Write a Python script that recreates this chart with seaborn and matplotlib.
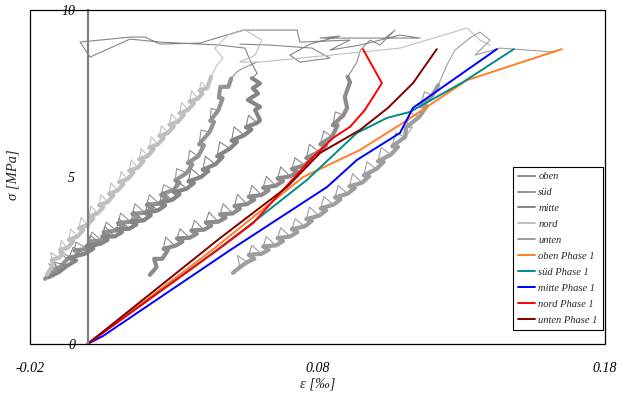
import matplotlib
matplotlib.use("Agg")
import matplotlib.pyplot as plt
from matplotlib.patches import Rectangle
import seaborn as sns
import pandas as pd

# ---------------- data (strain eps [per mille], stress sigma [MPa]) ----------------
oben_eps = [0.0217, 0.0240, 0.0232,
            0.0260, 0.0280, 0.0264, 0.0272,
            0.0305, 0.0330, 0.0311, 0.0322,
            0.0355, 0.0380, 0.0361, 0.0372,
            0.0405, 0.0430, 0.0411, 0.0422,
            0.0455, 0.0480, 0.0461, 0.0472,
            0.0505, 0.0530, 0.0511, 0.0522,
            0.0555, 0.0580, 0.0561, 0.0572,
            0.0605, 0.0630, 0.0611, 0.0622,
            0.0655, 0.0680, 0.0661, 0.0672,
            0.0705, 0.0730, 0.0711, 0.0722,
            0.0755, 0.0780, 0.0761, 0.0772,
            0.0805, 0.0830, 0.0810, 0.0822,
            0.0850, 0.0870, 0.0853, 0.0862,
            0.0890, 0.0903, 0.0895, 0.0913, 0.0905, 0.0937, 0.0949, 0.0983,
            0.1017, 0.1070, 0.1035]
oben_sig = [2.07, 2.30, 2.55,
            2.55, 2.82, 2.85, 3.20,
            2.94, 3.06, 3.16, 3.45,
            3.18, 3.30, 3.40, 3.70,
            3.42, 3.54, 3.64, 3.95,
            3.66, 3.78, 3.88, 4.20,
            3.91, 4.05, 4.13, 4.48,
            4.19, 4.32, 4.41, 4.75,
            4.46, 4.60, 4.68, 5.02,
            4.74, 4.88, 4.96, 5.30,
            5.02, 5.15, 5.24, 5.58,
            5.35, 5.55, 5.57, 5.98,
            5.75, 5.95, 5.98, 6.38,
            6.20, 6.55, 6.55, 6.95,
            6.85, 7.07, 7.40, 7.84, 8.00, 8.44, 8.80, 9.10,
            8.95, 9.40, 9.16]

sued_eps = [-0.0148, -0.0110, -0.0135, -0.0095, -0.0070, -0.0100,
            -0.0050, -0.0030, -0.0045, -0.0040,
            0.0000, 0.0025, 0.0006, 0.0015,
            0.0050, 0.0075, 0.0056, 0.0065,
            0.0100, 0.0125, 0.0106, 0.0115,
            0.0150, 0.0175, 0.0156, 0.0165,
            0.0200, 0.0225, 0.0206, 0.0215,
            0.0250, 0.0275, 0.0256, 0.0265,
            0.0300, 0.0320, 0.0305, 0.0310,
            0.0345, 0.0365, 0.0349, 0.0355,
            0.0385, 0.0405, 0.0388, 0.0395,
            0.0425, 0.0440, 0.0427, 0.0430,
            0.0455, 0.0470, 0.0457, 0.0462,
            0.0490, 0.0500, 0.0520, 0.0541, 0.0590]
sued_sig = [1.95, 2.25, 2.40, 2.30, 2.55, 2.75,
            2.58, 2.70, 2.80, 3.05,
            2.85, 2.95, 3.07, 3.35,
            3.10, 3.25, 3.35, 3.65,
            3.40, 3.52, 3.62, 3.92,
            3.66, 3.80, 3.90, 4.20,
            3.93, 4.07, 4.17, 4.47,
            4.20, 4.37, 4.47, 4.77,
            4.62, 4.83, 4.90, 5.25,
            5.12, 5.38, 5.42, 5.80,
            5.62, 5.95, 5.98, 6.40,
            6.35, 6.65, 6.68, 7.05,
            7.00, 7.35, 7.38, 7.70,
            7.70, 7.95, 8.15, 8.26, 8.44]

mitte_eps = [-0.0135, -0.0100, -0.0115,
             -0.0070, -0.0040, -0.0064, -0.0050,
             -0.0010, 0.0020, -0.0004, 0.0010,
             0.0045, 0.0070, 0.0051, 0.0060,
             0.0095, 0.0120, 0.0101, 0.0110,
             0.0145, 0.0170, 0.0151, 0.0160,
             0.0195, 0.0220, 0.0201, 0.0210,
             0.0245, 0.0270, 0.0251, 0.0260,
             0.0295, 0.0320, 0.0301, 0.0310,
             0.0345, 0.0370, 0.0351, 0.0360,
             0.0395, 0.0420, 0.0401, 0.0410,
             0.0445, 0.0470, 0.0451, 0.0460,
             0.0495, 0.0520, 0.0501, 0.0510,
             0.0545, 0.0570, 0.0551, 0.0560,
             0.0590, 0.0600, 0.0583, 0.0600, 0.0558, 0.0593, 0.0575, 0.0600,
             0.0572, 0.0590,
             0.0565, 0.0548, 0.0460, 0.0391, 0.0252, 0.0148, 0.0009, -0.0026, 0.0148, 0.0200,
             0.0252, 0.0391, 0.0541, 0.0729, 0.0739, 0.0913, 0.0843, 0.0948, 0.1087, 0.1157,
             0.0809, 0.0878, 0.0774, 0.0704, 0.0739, 0.0843, 0.0781, 0.0635, 0.0530]
mitte_sig = [2.00, 2.15, 2.45,
             2.35, 2.50, 2.58, 2.90,
             2.70, 2.85, 2.93, 3.25,
             3.00, 3.12, 3.22, 3.52,
             3.22, 3.35, 3.44, 3.75,
             3.45, 3.58, 3.67, 3.98,
             3.70, 3.85, 3.92, 4.25,
             4.00, 4.15, 4.22, 4.55,
             4.32, 4.48, 4.54, 4.90,
             4.65, 4.82, 4.87, 5.25,
             5.00, 5.18, 5.22, 5.62,
             5.38, 5.60, 5.62, 6.05,
             5.85, 6.05, 6.09, 6.50,
             6.25, 6.42, 6.49, 6.85,
             6.62, 6.70, 7.01, 7.10, 7.31, 7.50, 7.66, 7.80,
             7.96, 8.10,
             8.50, 8.86, 8.95, 8.98, 9.04, 9.13, 8.59, 9.04, 9.19, 9.19,
             8.98, 9.01, 9.40, 9.40, 9.04, 9.10, 8.80, 8.95, 9.25, 9.16,
             9.16, 9.22, 8.98, 8.65, 8.44, 8.56, 8.86, 8.95, 8.98]

nord_eps = [-0.0141, -0.0120, -0.0124, -0.0128,
            -0.0100, -0.0085, -0.0095, -0.0092,
            -0.0070, -0.0050, -0.0065, -0.0058,
            -0.0035, -0.0015, -0.0030, -0.0022,
            0.0000, 0.0020, 0.0005, 0.0012,
            0.0035, 0.0055, 0.0040, 0.0047,
            0.0070, 0.0090, 0.0075, 0.0082,
            0.0105, 0.0125, 0.0110, 0.0117,
            0.0140, 0.0160, 0.0145, 0.0152,
            0.0175, 0.0195, 0.0180, 0.0187,
            0.0210, 0.0230, 0.0215, 0.0222,
            0.0245, 0.0265, 0.0250, 0.0257,
            0.0280, 0.0300, 0.0285, 0.0292,
            0.0315, 0.0335, 0.0320, 0.0327,
            0.0350, 0.0370, 0.0355, 0.0362,
            0.0385, 0.0400, 0.0390, 0.0395,
            0.0416, 0.0430, 0.0450, 0.0471,
            0.0443, 0.0489, 0.0548, 0.0607, 0.0583, 0.0530, 0.0600, 0.0843,
            0.1087, 0.1320, 0.1365, 0.1400]
nord_sig = [2.07, 2.38, 2.52, 2.75,
            2.58, 2.70, 2.83, 3.10,
            2.87, 3.07, 3.12, 3.44,
            3.22, 3.41, 3.47, 3.79,
            3.56, 3.76, 3.81, 4.13,
            3.91, 4.10, 4.16, 4.47,
            4.25, 4.45, 4.50, 4.82,
            4.60, 4.79, 4.85, 5.16,
            4.94, 5.14, 5.19, 5.51,
            5.28, 5.48, 5.53, 5.85,
            5.63, 5.83, 5.88, 6.20,
            5.98, 6.17, 6.23, 6.54,
            6.32, 6.52, 6.57, 6.89,
            6.66, 6.86, 6.91, 7.23,
            7.01, 7.21, 7.26, 7.58,
            7.35, 7.50, 7.60, 7.85,
            7.66, 8.00, 8.35, 8.56,
            8.86, 9.25, 9.40, 9.10, 8.65, 8.44, 8.44, 8.65,
            8.86, 9.46, 9.10, 8.95]

unten_eps = [0.0506, 0.0530, 0.0522,
             0.0555, 0.0580, 0.0561, 0.0572,
             0.0605, 0.0630, 0.0611, 0.0622,
             0.0655, 0.0680, 0.0661, 0.0672,
             0.0705, 0.0730, 0.0711, 0.0722,
             0.0755, 0.0780, 0.0761, 0.0772,
             0.0805, 0.0830, 0.0811, 0.0822,
             0.0855, 0.0880, 0.0861, 0.0872,
             0.0905, 0.0930, 0.0911, 0.0922,
             0.0955, 0.0980, 0.0961, 0.0972,
             0.1005, 0.1030, 0.1010, 0.1022,
             0.1055, 0.1080, 0.1060, 0.1072,
             0.1105, 0.1130, 0.1108, 0.1122,
             0.1155, 0.1180, 0.1158, 0.1172,
             0.1200, 0.1220, 0.1235, 0.1250, 0.1278, 0.1330, 0.1365, 0.1400,
             0.1348, 0.1435, 0.1626]
unten_sig = [2.13, 2.30, 2.65,
             2.45, 2.55, 2.67, 2.95,
             2.70, 2.82, 2.92, 3.22,
             2.95, 3.08, 3.17, 3.48,
             3.22, 3.35, 3.44, 3.75,
             3.52, 3.68, 3.74, 4.10,
             3.84, 4.00, 4.06, 4.42,
             4.17, 4.33, 4.39, 4.75,
             4.50, 4.67, 4.72, 5.10,
             4.83, 5.02, 5.05, 5.45,
             5.24, 5.45, 5.47, 5.88,
             5.67, 5.90, 5.92, 6.32,
             6.20, 6.50, 6.48, 6.92,
             6.81, 7.12, 7.12, 7.55,
             7.45, 7.75, 8.05, 8.35, 8.80, 9.16, 9.34, 9.10,
             8.65, 8.86, 8.74]

oben_p1_eps = [0.0, 0.0433, 0.0750, 0.0948, 0.1097, 0.1191, 0.1320, 0.1650]
oben_p1_sig = [0.0, 2.81, 5.00, 5.81, 6.62, 7.16, 7.90, 8.83]
sued_p1_eps = [0.0, 0.0449, 0.0555, 0.0763, 0.0937, 0.1042, 0.1122, 0.1306, 0.1483]
sued_p1_sig = [0.0, 2.81, 3.50, 4.91, 6.32, 6.77, 6.95, 7.84, 8.83]
mitte_p1_eps = [0.0, 0.0054, 0.0496, 0.0694, 0.0833, 0.0937, 0.1087, 0.1132, 0.1424]
mitte_p1_sig = [0.0, 0.24, 2.81, 3.92, 4.70, 5.51, 6.32, 7.07, 8.83]
nord_p1_eps = [0.0, 0.0461, 0.0576, 0.0774, 0.0854, 0.0913, 0.0965, 0.1024, 0.0958]
nord_p1_sig = [0.0, 2.87, 3.62, 5.51, 6.17, 6.50, 7.01, 7.81, 8.83]
unten_p1_eps = [0.0, 0.0461, 0.0694, 0.0809, 0.0948, 0.1045, 0.1132, 0.1215]
unten_p1_sig = [0.0, 3.17, 4.70, 5.72, 6.41, 7.07, 7.81, 8.83]

x_ticks = [-0.02, 0.08, 0.18]
x_ticklabels = ["-0.02", "0.08", "0.18"]
y_ticks = [0, 5, 10]
y_ticklabels = ["0", "5", "10"]

grey_series = [
    ("oben", oben_eps, oben_sig, "#8c8c8c"),
    ("süd", sued_eps, sued_sig, "#939393"),
    ("mitte", mitte_eps, mitte_sig, "#858585"),
    ("nord", nord_eps, nord_sig, "#bfbfbf"),
    ("unten", unten_eps, unten_sig, "#9e9e9e"),
]
phase_series = [
    ("oben Phase 1", oben_p1_eps, oben_p1_sig, "#ff7f27"),
    ("süd Phase 1", sued_p1_eps, sued_p1_sig, "#008b8b"),
    ("mitte Phase 1", mitte_p1_eps, mitte_p1_sig, "#0000ff"),
    ("nord Phase 1", nord_p1_eps, nord_p1_sig, "#ff0000"),
    ("unten Phase 1", unten_p1_eps, unten_p1_sig, "#800000"),
]

# ---------------- figure ----------------
sns.set_style("white")
plt.rcParams["font.family"] = ["Liberation Serif", "DejaVu Serif"]
plt.rcParams["font.style"] = "italic"

fig = plt.figure(figsize=(6.25, 3.96), dpi=100)
ax = fig.add_axes([0.048, 0.1313, 0.92, 0.8434])

for name, xs, ys, col in grey_series:
    df = pd.DataFrame({"eps": xs, "sig": ys})
    # dense streak of the measurement (load peaks left out, lower stress range)
    peak = (df["sig"] > df["sig"].shift(1)) & (df["sig"] > df["sig"].shift(-1))
    streak = df[(~peak) & (df["sig"] <= 8.0)]
    sns.lineplot(data=streak, x="eps", y="sig", sort=False, estimator=None,
                 color=col, lw=3.0, ax=ax, legend=False)
    # full trace with the load peaks
    sns.lineplot(data=df, x="eps", y="sig", sort=False, estimator=None,
                 color=col, lw=0.8, ax=ax, label=name)

for name, xs, ys, col in phase_series:
    df = pd.DataFrame({"eps": xs, "sig": ys})
    sns.lineplot(data=df, x="eps", y="sig", sort=False, estimator=None,
                 color=col, lw=1.4, ax=ax, label=name)

ax.set_xlim(-0.02, 0.18)
ax.set_ylim(0, 10)

# axes styling
for s in ["top", "right", "bottom"]:
    ax.spines[s].set_visible(False)
ax.spines["left"].set_position(("data", 0))
ax.spines["left"].set_color("#808080")
ax.spines["left"].set_linewidth(1.6)
ax.add_patch(Rectangle((0, 0), 1, 1, transform=ax.transAxes, fill=False,
                       edgecolor="black", lw=0.9, clip_on=False, zorder=5))

ax.set_xticks(x_ticks)
ax.set_xticklabels(x_ticklabels)
ax.set_yticks(y_ticks)
ax.set_yticklabels(y_ticklabels)
ax.tick_params(axis="x", direction="in", length=5, width=0.8, pad=13,
               labelsize=10, colors="black")
ax.tick_params(axis="y", direction="in", length=4, width=0.8, pad=9,
               labelsize=10, colors="black")

ax.set_xlabel("ε [‰]", fontsize=10.5)
ax.set_ylabel("σ [MPa]", fontsize=10.5)
ax.xaxis.set_label_coords(0.501, -0.10)
ax.yaxis.set_label_coords(-0.018, 0.506)

leg = ax.legend(loc="lower right", bbox_to_anchor=(0.9965, 0.042),
                borderaxespad=0, frameon=True, fancybox=False, framealpha=1,
                edgecolor="black", fontsize=7.6, handlelength=1.6,
                handletextpad=0.3, labelspacing=0.62, borderpad=0.5)
leg.get_frame().set_linewidth(0.8)
for h in leg.get_lines()[:5]:
    h.set_linewidth(1.4)

fig.savefig("out.png", dpi=100)
